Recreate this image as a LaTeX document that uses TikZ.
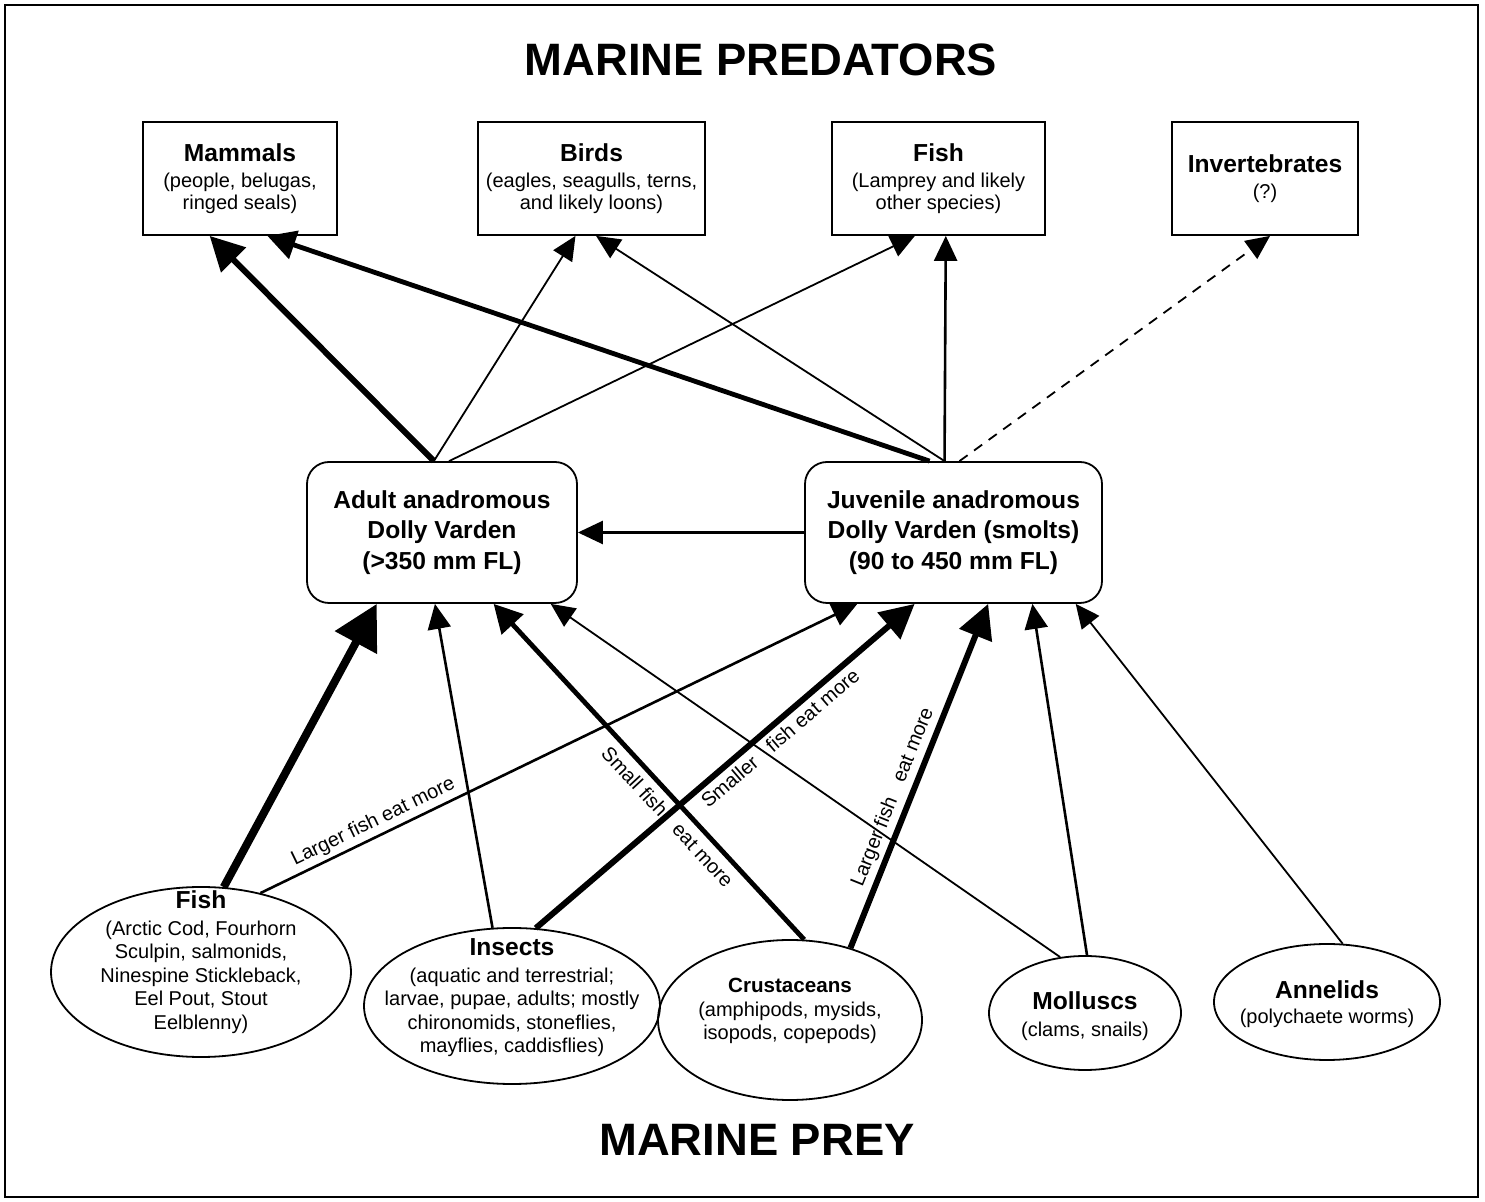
\documentclass[tikz,border=0pt]{standalone}
\usepackage{fontspec}
\setmainfont{Liberation Sans}
\usetikzlibrary{shapes.geometric,arrows.meta,calc}
\newcommand{\boxhead}{\fontsize{12.3}{14}\selectfont\bfseries}
\newcommand{\smallhead}{\fontsize{10.3}{12}\selectfont\bfseries}

\begin{document}
\begin{tikzpicture}[x=0.5pt,y=-0.5pt]
\tikzstyle{pred}=[draw,line width=0.9pt,minimum height=56.5pt,inner sep=0pt,align=center,font=\fontsize{10}{11}\selectfont]
\tikzstyle{dv}=[draw,line width=0.9pt,rounded corners=11pt,minimum height=70.5pt,inner sep=0pt,align=center,font=\fontsize{12.3}{15.2}\selectfont\bfseries]
\tikzstyle{prey}=[draw,ellipse,line width=0.9pt,inner sep=0pt]
\tikzstyle{preytext}=[align=center,inner sep=0pt,font=\fontsize{10}{11.75}\selectfont]
\tikzstyle{lbl}=[sloped,inner sep=2pt,font=\fontsize{10}{12}\selectfont]
\tikzstyle{bigtitle}=[font=\fontsize{22.7}{27}\selectfont\bfseries]
\tikzstyle{feedthin}=[draw,line width=0.9pt,-{Triangle[length=12pt,width=11pt]}]
\tikzstyle{feedmed}=[draw,line width=1.3pt,-{Triangle[length=12.5pt,width=11.5pt]}]
\tikzstyle{feedbold}=[draw,line width=2.4pt,-{Triangle[length=14pt,width=14.5pt]}]
\tikzstyle{feedthick}=[draw,line width=3pt,-{Triangle[length=17pt,width=17pt]}]
\tikzstyle{feedheavy}=[draw,line width=4pt,-{Triangle[length=22pt,width=23pt]}]
    \useasboundingbox (0,0) rectangle (1485,1202);
    \draw[line width=0.9pt] (5,5) rectangle (1478,1197);
    % headings
    \node[bigtitle] (predtitle) at (761,60) {MARINE PREDATORS};
    \node[bigtitle] (preytitle) at (757,1140) {MARINE PREY};
    % predators
    \node[pred,minimum width=97pt] (mam) at (240,178.5) {{\boxhead Mammals}\\[2pt](people, belugas,\\ringed seals)};
    \node[pred,minimum width=113.5pt] (birds) at (591.5,178.5) {{\boxhead Birds}\\[2pt](eagles, seagulls, terns,\\and likely loons)};
    \node[pred,minimum width=106.5pt] (pfish) at (938.5,178.5) {{\boxhead Fish}\\[2pt](Lamprey and likely\\other species)};
    \node[pred,minimum width=93pt] (inv) at (1265,178.5) {{\boxhead Invertebrates}\\[2pt](?)};
    % Dolly Varden
    \node[dv,minimum width=135pt] (adult) at (442,532.5) {Adult anadromous\\Dolly Varden\\(>350 mm FL)};
    \node[dv,minimum width=148.5pt] (juv) at (953.5,532.5) {Juvenile anadromous\\Dolly Varden (smolts)\\(90 to 450 mm FL)};
    % prey
    \node[prey,minimum width=150pt,minimum height=85pt] (ffish) at (201,972) {};
    \node[preytext] (ffish-t) at (201,962) {{\boxhead Fish}\\[1.5pt](Arctic Cod, Fourhorn\\Sculpin, salmonids,\\Ninespine Stickleback,\\Eel Pout, Stout\\Eelblenny)};
    \node[prey,minimum width=148pt,minimum height=78pt] (ins) at (512,1006) {};
    \node[preytext] (ins-t) at (512,998) {{\boxhead Insects}\\[1.5pt](aquatic and terrestrial;\\larvae, pupae, adults; mostly\\chironomids, stoneflies,\\mayflies, caddisflies)};
    \node[prey,minimum width=132pt,minimum height=80pt] (crust) at (790,1020) {};
    \node[preytext] (crust-t) at (790,1011) {{\smallhead Crustaceans}\\(amphipods, mysids,\\isopods, copepods)};
    \node[prey,minimum width=96pt,minimum height=57pt] (moll) at (1085,1013) {};
    \node[preytext] (moll-t) at (1085,1016) {{\boxhead Molluscs}\\[1.5pt](clams, snails)};
    \node[prey,minimum width=113pt,minimum height=58pt] (ann) at (1327,1002) {};
    \node[preytext] (ann-t) at (1327,1004) {{\boxhead Annelids}\\[1pt](polychaete worms)};
    % who eats Dolly Varden
    \path ($(adult.north west)!.47!(adult.north east)$) edge [feedthick] ($(mam.south west)!.345!(mam.south east)$);
    \path ($(adult.north west)!.47!(adult.north east)$) edge [feedthin] ($(birds.south west)!.43!(birds.south east)$);
    \path ($(adult.north west)!.526!(adult.north east)$) edge [feedthin] ($(pfish.south west)!.39!(pfish.south east)$);
    \path ($(juv.north west)!.42!(juv.north east)$) edge [feedbold] ($(mam.south west)!.64!(mam.south east)$);
    \path ($(juv.north west)!.47!(juv.north east)$) edge [feedthin] ($(birds.south west)!.52!(birds.south east)$);
    \path ($(juv.north west)!.47!(juv.north east)$) edge [feedmed] ($(pfish.south west)!.534!(pfish.south east)$);
    \path ($(juv.north west)!.52!(juv.north east)$) edge [feedthin,dash pattern=on 5pt off 4pt] ($(inv.south west)!.527!(inv.south east)$);
    \path (juv.west) edge [feedmed] (adult.east);
    % what Dolly Varden eat
    \path (ffish.75) edge [feedheavy] ($(adult.south west)!.26!(adult.south east)$);
    \path (ffish.53) edge [feedmed] node[lbl,above,pos=.2] (lbl-a) {Larger fish eat more} ($(juv.south west)!.178!(juv.south east)$);
    \path (ins.104) edge [feedmed] ($(adult.south west)!.474!(adult.south east)$);
    \path (ins.73) edge [feedthick] node[lbl,below,pos=.62] (lbl-c) {Smaller\hspace{6pt} fish eat more} ($(juv.south west)!.37!(juv.south east)$);
    \path (crust.80) edge [feedbold] node[lbl,below,pos=.4,inner sep=3.5pt] (lbl-b) {Small fish\hspace{6pt} eat more} ($(adult.south west)!.69!(adult.south east)$);
    \path (crust.50) edge [feedthick] node[lbl,above,pos=.42] (lbl-d) {Larger fish\hspace{6pt} eat more} ($(juv.south west)!.616!(juv.south east)$);
    \path (moll.114) edge [feedthin] ($(adult.south west)!.9!(adult.south east)$);
    \path (moll.88) edge [feedmed] ($(juv.south west)!.764!(juv.south east)$);
    \path (ann.75) edge [feedthin] ($(juv.south west)!.909!(juv.south east)$);
\end{tikzpicture}
\end{document}
